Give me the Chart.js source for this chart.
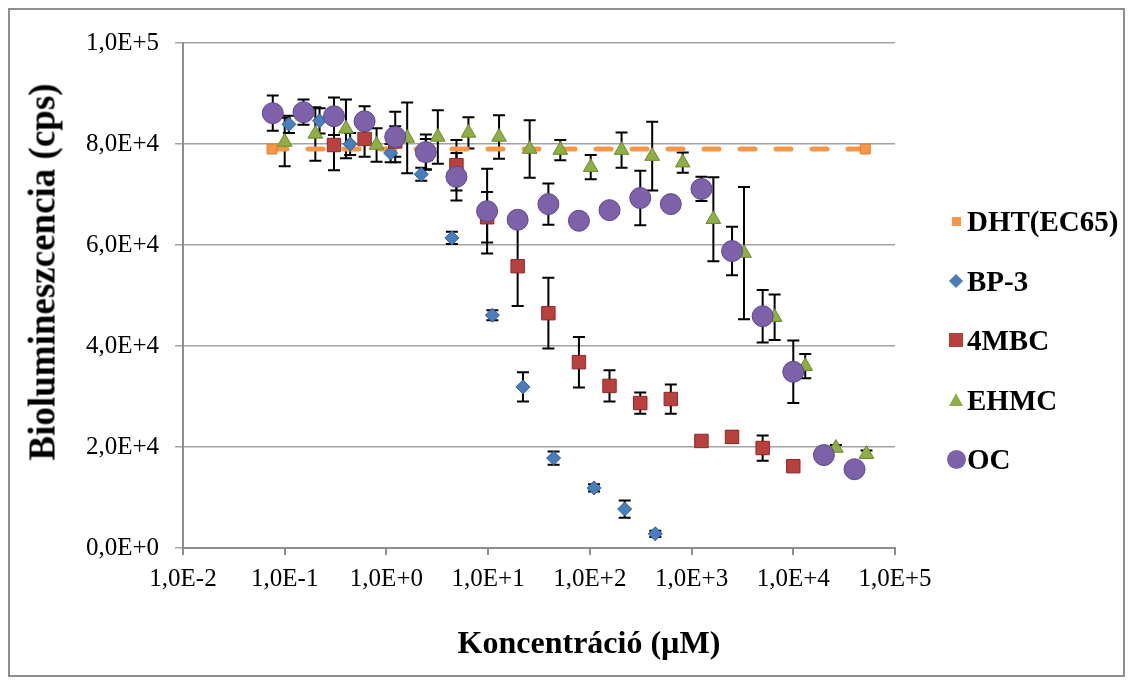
<!DOCTYPE html>
<html>
<head>
<meta charset="utf-8">
<script src="https://cdn.jsdelivr.net/npm/chart.js@4.4.1/dist/chart.umd.min.js"></script>
<style>
  body { margin: 0; background: #fff; }
  #frame { position: absolute; left: 8px; top: 8px; width: 1113px; height: 665px; border: 2px solid #8e8e8e; background: #fff; }
  #chart { position: absolute; left: 0; top: 0; }
  .mk { position: absolute; }
  .lbl { position: absolute; font: bold 29px "Liberation Serif", "Times New Roman", serif; line-height: 32px; color: #000; white-space: nowrap; }
  .ttl { position: absolute; font-family: "Liberation Serif", "Times New Roman", serif; font-weight: bold; color: #000; white-space: nowrap; line-height: 1; }
</style>
</head>
<body>
<div id="frame">
  <canvas id="chart" width="1113" height="665"></canvas>
  <div class="ttl" id="ytitle" style="font-size:37px;left:32px;top:262px;transform:translate(-50%,-50%) rotate(-90deg);">Biolumineszcencia (cps)</div>
  <div class="ttl" id="xtitle" style="font-size:32px;left:579px;top:632px;transform:translate(-50%,-50%);">Koncentráció (µM)</div>
</div>
<script>
// tick labels
const xTickValues = [0.01, 0.1, 1, 10, 100, 1000, 10000, 100000];
const xTickLabels = ['1,0E-2', '1,0E-1', '1,0E+0', '1,0E+1', '1,0E+2', '1,0E+3', '1,0E+4', '1,0E+5'];
const yTickValues = [0, 20000, 40000, 60000, 80000, 100000];
const yTickLabels = ['0,0E+0', '2,0E+4', '4,0E+4', '6,0E+4', '8,0E+4', '1,0E+5'];

const seriesNames = ['DHT(EC65)', 'BP-3', '4MBC', 'EHMC', 'OC'];

// DHT (EC65) reference level
const dhtX = [0.075, 51000];
const dhtY = [79000, 79000];

// BP-3
const bp3X = [0.11, 0.22, 0.44, 1.1, 2.2, 4.4, 11, 22, 44, 110, 220, 440];
const bp3Y = [83900, 84600, 80000, 78200, 74000, 61400, 46100, 31900, 17800, 11900, 7700, 2800];
const bp3Err = [1700, 2500, 2200, 1800, 1300, 1200, 1000, 2900, 1300, 700, 1700, 600];

// 4MBC
const mbcX = [0.305, 0.61, 1.22, 2.44, 4.88, 9.77, 19.5, 39.1, 78.1, 156, 313, 625, 1250, 2500, 5000, 10000];
const mbcY = [79800, 81000, 80500, 78000, 75800, 65500, 55800, 46500, 36800, 32100, 28700, 29500, 21200, 22000, 19800, 16200];
const mbcErr = [5000, 3500, 3000, 3000, 5000, 5000, 7900, 7000, 5000, 3100, 2100, 2900, 0, 1100, 2500, 0];

// EHMC
const ehmcX = [0.1, 0.2, 0.4, 0.8, 1.6, 3.2, 6.4, 12.8, 25.6, 51.2, 102, 205, 410, 819, 1638, 3277, 6554, 13107, 26214, 52429];
const ehmcY = [80400, 82000, 83000, 79800, 81200, 81400, 82200, 81400, 79000, 78800, 75400, 78800, 77600, 76300, 65100, 58400, 45700, 36000, 19800, 18600];
const ehmcErr = [4800, 5300, 5800, 3300, 7000, 5300, 3100, 4300, 5700, 2000, 2400, 3500, 6800, 2000, 8300, 13100, 4500, 2400, 600, 700];

// OC
const ocX = [0.0763, 0.153, 0.305, 0.61, 1.22, 2.44, 4.88, 9.77, 19.5, 39.1, 78.1, 156, 313, 625, 1250, 2500, 5000, 10000, 20000, 40000];
const ocY = [86100, 86300, 85500, 84500, 81400, 78400, 73500, 66700, 65000, 68100, 64800, 66900, 69300, 68100, 71100, 58800, 45900, 34900, 18400, 15600];
const ocErr = [3500, 2500, 3700, 3000, 5000, 3500, 4700, 8400, 0, 4100, 0, 0, 5400, 0, 2400, 4800, 5200, 6200, 0, 0];

function pts(xs, ys) {
  return xs.map((x, i) => ({ x: x, y: ys[i] }));
}

// error bars drawn through the chart scales, under the markers
const errorBars = {
  id: 'errorBars',
  beforeDatasetsDraw(chart) {
    const ctx = chart.ctx;
    const xs = chart.scales.x, ys = chart.scales.y;
    ctx.save();
    ctx.strokeStyle = '#000';
    ctx.lineWidth = 2;
    chart.data.datasets.forEach(ds => {
      if (!ds.errors) return;
      ds.data.forEach((p, i) => {
        const e = ds.errors[i];
        if (!e) return;
        const px = xs.getPixelForValue(p.x);
        const top = ys.getPixelForValue(p.y + e);
        const bot = ys.getPixelForValue(p.y - e);
        ctx.beginPath();
        ctx.moveTo(px, top); ctx.lineTo(px, bot);
        ctx.moveTo(px - 6, top); ctx.lineTo(px + 6, top);
        ctx.moveTo(px - 6, bot); ctx.lineTo(px + 6, bot);
        ctx.stroke();
      });
    });
    ctx.restore();
  }
};

const serif = '"Liberation Serif", "Times New Roman", serif';
const gray = '#8e8e8e';

new Chart(document.getElementById('chart'), {
  type: 'scatter',
  data: {
    datasets: [
      {
        label: seriesNames[0], data: pts(dhtX, dhtY), showLine: true,
        borderColor: '#f79646', borderWidth: 5, borderDash: [15, 21], borderCapStyle: 'round',
        pointStyle: 'rect', pointRadius: 7, pointBackgroundColor: '#f79646', pointBorderColor: '#e07c2c', pointBorderWidth: 1,
        order: 5
      },
      {
        label: seriesNames[1], data: pts(bp3X, bp3Y), errors: bp3Err,
        pointStyle: 'rectRot', pointRadius: 7, backgroundColor: '#4a7ebb', borderColor: '#2d5e98', borderWidth: 1,
        order: 4
      },
      {
        label: seriesNames[2], data: pts(mbcX, mbcY), errors: mbcErr,
        pointStyle: 'rect', pointRadius: 9.5, backgroundColor: '#b8403e', borderColor: '#8c2a28', borderWidth: 1,
        order: 3
      },
      {
        label: seriesNames[3], data: pts(ehmcX, ehmcY), errors: ehmcErr,
        pointStyle: 'triangle', pointRadius: 8.5, backgroundColor: '#8fae45', borderColor: '#6c8a2c', borderWidth: 1,
        order: 2
      },
      {
        label: seriesNames[4], data: pts(ocX, ocY), errors: ocErr,
        pointStyle: 'circle', pointRadius: 10.5, backgroundColor: '#7d62a9', borderColor: '#5d4690', borderWidth: 1,
        order: 1
      }
    ]
  },
  options: {
    responsive: false,
    animation: false,
    devicePixelRatio: 1,
    layout: { padding: { left: 0, top: 33, right: 228, bottom: 0 } },
    plugins: {
      legend: { display: false },
      tooltip: { enabled: false }
    },
    scales: {
      x: {
        type: 'logarithmic',
        min: 0.01, max: 100000,
        afterBuildTicks: s => { s.ticks = xTickValues.map(v => ({ value: v })); },
        afterFit: s => { s.height = 127; },
        ticks: {
          autoSkip: false, maxRotation: 0, padding: 9, color: '#000',
          font: { family: serif, size: 25 },
          callback: (v, i) => xTickLabels[i]
        },
        grid: { drawOnChartArea: false, drawTicks: true, tickLength: 7, color: gray, lineWidth: 2 },
        border: { display: true, color: gray, width: 2 }
      },
      y: {
        min: 0, max: 100000,
        afterBuildTicks: s => { s.ticks = yTickValues.map(v => ({ value: v })); },
        afterFit: s => { s.width = 173; },
        ticks: {
          padding: 16, color: '#000',
          font: { family: serif, size: 25 },
          callback: (v, i) => yTickLabels[i]
        },
        grid: { color: '#a3a3a3', lineWidth: 1.5, tickLength: 8 },
        border: { display: true, color: gray, width: 2 }
      }
    }
  },
  plugins: [errorBars]
});

// legend (page coordinates, frame content starts at 10)
const legendRows = [221, 280.5, 340, 399.5, 459];
const legendMarks = [
  { w: 9, h: 9, css: 'background:#f79646;' },
  { w: 10, h: 10, css: 'background:#4a7ebb;transform:rotate(45deg);', bw: 10, bh: 10 },
  { w: 14, h: 14, css: 'background:#b8403e;' },
  { w: 0, h: 0, css: 'border-left:7px solid transparent;border-right:7px solid transparent;border-bottom:13px solid #8fae45;', bw: 14, bh: 13 },
  { w: 19, h: 19, css: 'background:#7d62a9;border-radius:50%;' }
];
const frame = document.getElementById('frame');
seriesNames.forEach((name, i) => {
  const cy = legendRows[i] - 10;
  const m = legendMarks[i];
  const bw = m.bw || m.w, bh = m.bh || m.h;
  const mk = document.createElement('div');
  mk.className = 'mk';
  mk.style.cssText = m.css + 'width:' + m.w + 'px;height:' + m.h + 'px;left:' + (946 - bw / 2) + 'px;top:' + (cy - bh / 2) + 'px;';
  frame.appendChild(mk);
  const t = document.createElement('div');
  t.className = 'lbl';
  t.textContent = name;
  t.style.left = '957px';
  t.style.top = (cy - 16) + 'px';
  frame.appendChild(t);
});
</script>
</body>
</html>
